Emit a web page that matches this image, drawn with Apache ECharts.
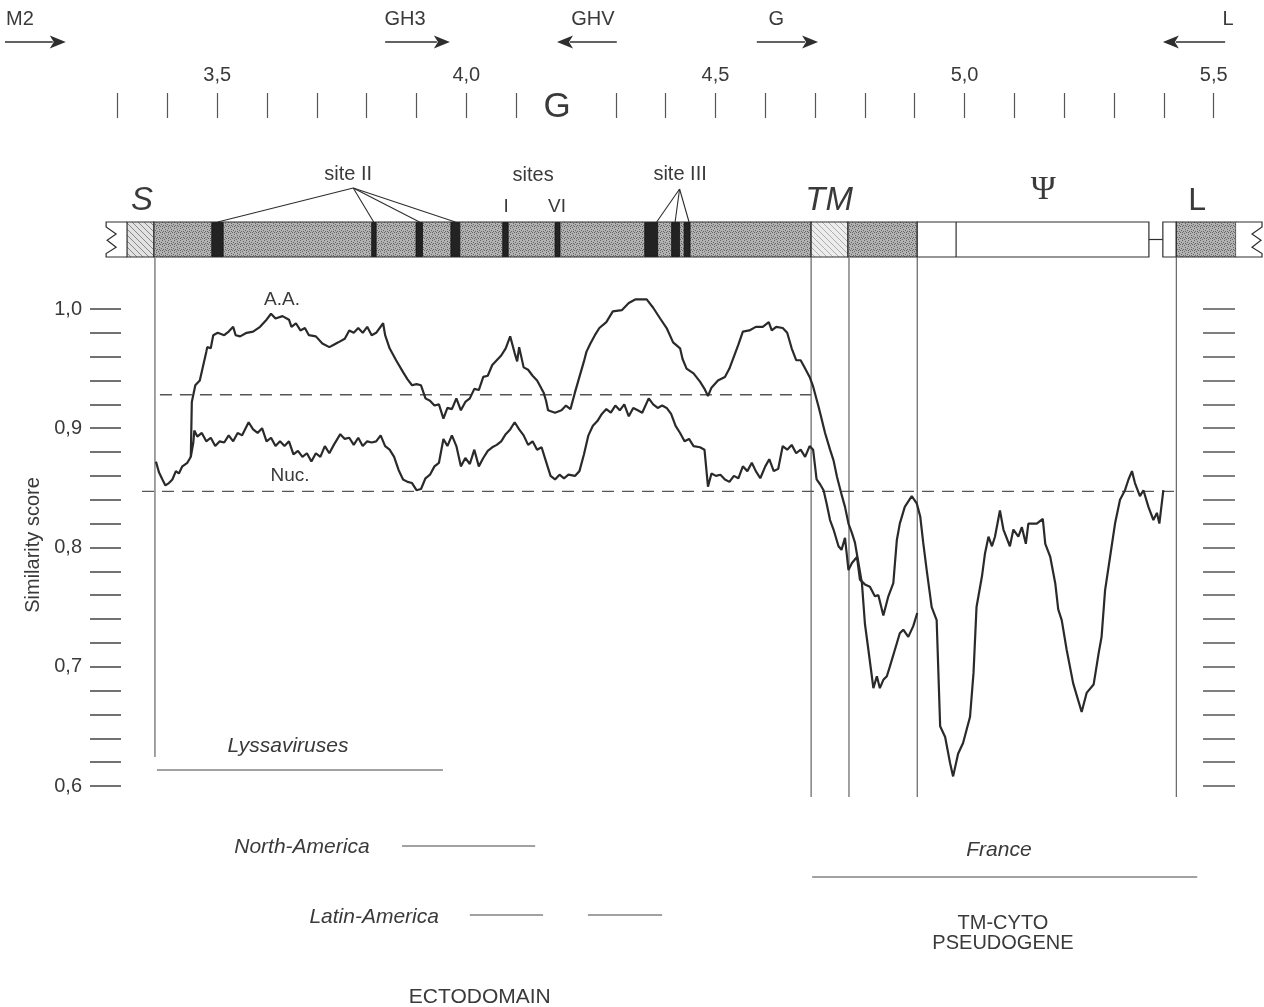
<!DOCTYPE html>
<html>
<head>
<meta charset="utf-8">
<title>Similarity score</title>
<script src="https://cdn.jsdelivr.net/npm/echarts@6/dist/echarts.min.js"></script>
<style>
html,body{margin:0;padding:0;background:#fff;}
#chart{width:1264px;height:1007px;}
</style>
</head>
<body>
<div id="chart"></div>
<script>
// ================= DATA (kb position / similarity score) =================
const aaKb = [3.447,3.449,3.456,3.465,3.478,3.480,3.487,3.492,3.501,3.514,
3.523,3.532,3.537,3.546,3.559,3.572,3.586,3.599,3.608,3.617,
3.631,3.644,3.649,3.658,3.667,3.676,3.684,3.698,3.711,3.725,
3.734,3.743,3.756,3.765,3.774,3.783,3.792,3.801,3.810,3.819,
3.833,3.837,3.846,3.859,3.873,3.882,3.891,3.900,3.909,3.918,
3.927,3.936,3.945,3.954,3.962,3.971,3.980,3.989,3.998,4.007,
4.016,4.025,4.034,4.043,4.052,4.061,4.070,4.079,4.088,4.097,
4.102,4.106,4.115,4.124,4.133,4.142,4.151,4.155,4.160,4.164,
4.178,4.191,4.200,4.209,4.218,4.227,4.236,4.241,4.249,4.258,
4.267,4.281,4.294,4.312,4.326,4.339,4.362,4.375,4.389,4.402,
4.415,4.429,4.434,4.442,4.456,4.469,4.478,4.485,4.492,4.505,
4.519,4.528,4.537,4.546,4.555,4.568,4.581,4.595,4.607,4.613,
4.622,4.635,4.644,4.653,4.662,4.671,4.680,4.689,4.696,4.707,
4.713,4.720,4.730,4.737,4.744,4.754,4.760,4.767,4.774,4.780,
4.787,4.794,4.800,4.807,4.817,4.824,4.830,4.837,4.844,4.850,
4.860,4.870,4.877,4.887,4.897,4.905];
const aaScore = [0.876,0.922,0.936,0.940,0.964,0.968,0.967,0.978,0.980,0.978,
0.981,0.985,0.978,0.977,0.980,0.981,0.985,0.991,0.996,0.992,
0.994,0.991,0.985,0.988,0.982,0.984,0.978,0.977,0.971,0.968,
0.970,0.972,0.975,0.982,0.980,0.984,0.980,0.985,0.978,0.980,
0.988,0.978,0.967,0.957,0.947,0.941,0.936,0.937,0.936,0.925,
0.923,0.919,0.920,0.908,0.917,0.916,0.925,0.915,0.922,0.925,
0.933,0.932,0.943,0.944,0.953,0.957,0.961,0.967,0.977,0.963,
0.956,0.968,0.951,0.949,0.944,0.940,0.933,0.930,0.923,0.915,
0.913,0.915,0.919,0.916,0.930,0.943,0.956,0.964,0.971,0.978,
0.984,0.989,0.998,0.999,1.005,1.008,1.008,1.001,0.992,0.984,
0.972,0.967,0.958,0.950,0.946,0.939,0.933,0.927,0.934,0.940,
0.943,0.950,0.960,0.970,0.981,0.982,0.985,0.985,0.989,0.982,
0.985,0.984,0.980,0.967,0.957,0.957,0.950,0.943,0.935,0.918,
0.908,0.896,0.882,0.873,0.859,0.843,0.834,0.820,0.812,0.804,
0.787,0.770,0.736,0.714,0.682,0.692,0.682,0.689,0.692,0.700,
0.714,0.728,0.731,0.725,0.734,0.745];

const nucKb = [3.377,3.383,3.390,3.396,3.403,3.410,3.417,3.423,3.430,3.440,
3.447,3.452,3.454,3.460,3.469,3.478,3.487,3.496,3.505,3.514,
3.523,3.532,3.541,3.550,3.563,3.572,3.581,3.590,3.599,3.608,
3.617,3.626,3.635,3.644,3.653,3.662,3.671,3.680,3.689,3.698,
3.707,3.716,3.725,3.734,3.747,3.756,3.765,3.774,3.783,3.792,
3.801,3.810,3.819,3.828,3.837,3.846,3.855,3.864,3.873,3.882,
3.891,3.900,3.909,3.918,3.927,3.936,3.945,3.954,3.962,3.971,
3.980,3.989,3.998,4.007,4.016,4.025,4.034,4.043,4.052,4.061,
4.070,4.079,4.088,4.097,4.106,4.115,4.124,4.133,4.142,4.151,
4.160,4.169,4.178,4.187,4.196,4.205,4.218,4.227,4.236,4.245,
4.254,4.263,4.272,4.281,4.290,4.299,4.308,4.317,4.326,4.335,
4.344,4.353,4.366,4.375,4.384,4.393,4.402,4.411,4.420,4.429,
4.438,4.447,4.456,4.469,4.478,4.485,4.492,4.501,4.510,4.519,
4.528,4.537,4.546,4.555,4.564,4.573,4.581,4.590,4.600,4.608,
4.617,4.626,4.635,4.644,4.653,4.662,4.671,4.680,4.689,4.696,
4.703,4.710,4.717,4.723,4.730,4.737,4.747,4.753,4.760,4.767,
4.774,4.784,4.790,4.800,4.810,4.820,4.827,4.837,4.847,4.857,
4.864,4.870,4.880,4.894,4.904,4.911,4.917,4.924,4.934,4.944,
4.951,4.961,4.971,4.977,4.987,4.997,5.011,5.018,5.024,5.035,
5.041,5.048,5.055,5.061,5.071,5.078,5.091,5.098,5.108,5.115,
5.123,5.128,5.145,5.157,5.162,5.172,5.182,5.188,5.195,5.205,
5.218,5.235,5.245,5.259,5.269,5.275,5.282,5.292,5.302,5.312,
5.322,5.329,5.336,5.342,5.352,5.359,5.369,5.379,5.386,5.391,5.399];
const nucScore = [0.872,0.863,0.857,0.852,0.854,0.857,0.864,0.862,0.868,0.871,
0.876,0.888,0.898,0.893,0.896,0.889,0.892,0.885,0.889,0.888,
0.894,0.889,0.896,0.894,0.905,0.899,0.896,0.900,0.889,0.892,
0.885,0.889,0.885,0.889,0.878,0.881,0.876,0.879,0.872,0.879,
0.876,0.885,0.879,0.886,0.895,0.891,0.892,0.886,0.892,0.885,
0.889,0.888,0.889,0.894,0.885,0.882,0.876,0.865,0.857,0.855,
0.854,0.848,0.849,0.858,0.861,0.868,0.871,0.891,0.885,0.894,
0.885,0.868,0.875,0.870,0.882,0.868,0.875,0.881,0.884,0.886,
0.889,0.895,0.899,0.905,0.899,0.894,0.886,0.889,0.882,0.884,
0.872,0.860,0.857,0.861,0.858,0.861,0.860,0.864,0.878,0.894,
0.902,0.906,0.912,0.916,0.913,0.919,0.915,0.920,0.910,0.917,
0.915,0.913,0.925,0.920,0.917,0.919,0.917,0.912,0.902,0.896,
0.889,0.891,0.885,0.884,0.882,0.851,0.862,0.860,0.861,0.857,
0.855,0.860,0.858,0.868,0.864,0.871,0.864,0.858,0.868,0.874,
0.864,0.866,0.885,0.882,0.886,0.879,0.882,0.876,0.885,0.882,
0.857,0.853,0.848,0.837,0.823,0.815,0.801,0.798,0.808,0.781,
0.787,0.792,0.773,0.769,0.767,0.759,0.760,0.743,0.759,0.770,
0.806,0.820,0.834,0.843,0.837,0.826,0.804,0.781,0.750,0.739,
0.650,0.641,0.619,0.608,0.627,0.636,0.658,0.695,0.750,0.776,
0.795,0.809,0.801,0.809,0.831,0.815,0.801,0.815,0.809,0.817,
0.803,0.820,0.820,0.824,0.803,0.792,0.770,0.748,0.739,0.714,
0.686,0.662,0.678,0.685,0.711,0.725,0.764,0.792,0.820,0.840,
0.848,0.857,0.864,0.854,0.843,0.848,0.834,0.823,0.829,0.820,0.848];

// significance thresholds (dashed lines)
const thresholdScore = [0.928, 0.847];
const thresholdFromKb = [3.385, 3.349];
const thresholdToKb = [4.692, 5.425];

// kb scale (top) and score scale
const scaleTicks = [3.3,3.4,3.5,3.6,3.7,3.8,3.9,4.0,4.1,4.3,4.4,4.5,4.6,4.7,4.8,4.9,5.0,5.1,5.2,5.3,5.4,5.5];
const scaleLabels = [3.5,4.0,4.5,5.0,5.5];
const scoreMin = 0.6, scoreMax = 1.0, scoreStep = 0.02;

// gene map segments (kb)
const geneStart = [3.277,3.319,3.373,4.692,4.766,4.905,5.370,5.398,5.425,5.545];
const geneEnd   = [3.319,3.373,4.692,4.766,4.905,5.370,5.398,5.425,5.545,5.597];
const geneKind  = ['breakL','hatch','stipple','hatchLight','stipple','psi','connector','white','stipple','breakR'];
const psiInnerKb = 4.983;
// antigenic sites (dark bands)
const siteStart = [3.489,3.810,3.899,3.969,4.073,4.178,4.358,4.412,4.437];
const siteEnd   = [3.512,3.819,3.912,3.987,4.084,4.188,4.384,4.428,4.449];
// callouts to sites II and III
const siteIIApexKb = 3.773, siteIITargetsKb = [3.501,3.814,3.906,3.978];
const siteIIIApexKb = 4.428, siteIIITargetsKb = [4.382,4.419,4.447];
// domain boundaries (vertical lines)
const boundaryKb = [3.375,4.692,4.768,4.905,5.425];
// primers
const primerName = ['M2','GH3','GHV','G','L'];
const primerFrom = [3.074,3.837,4.182,4.583,5.398];
const primerTo   = [3.196,3.967,4.302,4.706,5.523];
const primerDir  = [1,1,-1,1,-1];
// lineage extents
const lineageFrom = [3.379,3.871,4.007,4.244,4.694];
const lineageTo   = [3.953,4.138,4.154,4.393,5.467];

// ================= LAYOUT (rows in px, styling) =================
const KB_MIN = 3.064, KB_MAX = 5.601;
const SC_MIN = 0.4146, SC_MAX = 1.2591;
const L = {barTop:222, barBottom:257, barMid:239.5, arrowRow:42, calloutApexII:188, calloutApexIII:189,
           boundaryTop:258, boundaryBottom:[757,797,797,797,797],
           lineageRow:[770,846,915,915,877]};
const FONT = '"Liberation Sans", Arial, Helvetica, sans-serif';
const INK = '#2e2e2e';
const TXT = '#3a3a3a';
const textLayout = [
  {t:primerName[0], kb:3.104, row:19, s:20},
  {t:primerName[1], kb:3.877, row:19, s:20},
  {t:primerName[2], kb:4.254, row:19, s:20},
  {t:primerName[3], kb:4.622, row:19, s:20},
  {t:primerName[4], kb:5.529, row:19, s:20},
  {t:'G', kb:4.182, row:107, s:35},
  {t:'S', kb:3.349, row:201, s:33, st:'italic'},
  {t:'site II', kb:3.763, row:174, s:20},
  {t:'sites', kb:4.134, row:175, s:20},
  {t:'I', kb:4.080, row:207, s:19},
  {t:'VI', kb:4.182, row:207, s:19},
  {t:'site III', kb:4.429, row:174, s:20},
  {t:'TM', kb:4.728, row:201, s:33, st:'italic'},
  {t:'Ψ', kb:5.158, row:190, s:34, f:'"Liberation Serif", "DejaVu Serif", serif'},
  {t:'L', kb:5.467, row:201, s:32},
  {t:'A.A.', kb:3.630, row:300, s:19},
  {t:'Nuc.', kb:3.646, row:476, s:19},
  {t:'Lyssaviruses', kb:3.642, row:746, s:21, st:'italic'},
  {t:'North-America', kb:3.670, row:847, s:21, st:'italic'},
  {t:'Latin-America', kb:3.815, row:917, s:21, st:'italic'},
  {t:'France', kb:5.069, row:850, s:21, st:'italic'},
  {t:'TM-CYTO', kb:5.077, row:923, s:20},
  {t:'PSEUDOGENE', kb:5.077, row:943, s:20},
  {t:'ECTODOMAIN', kb:4.027, row:997, s:21},
  {t:'Similarity score', kb:3.132, row:545, s:20, rot:Math.PI/2}
];

// ================= PATTERNS =================
function makePattern(bg, fg, type){
  const c = document.createElement('canvas'); c.width = 6; c.height = 6;
  const g = c.getContext('2d'); g.fillStyle = bg; g.fillRect(0,0,6,6);
  if (type === 'hatch'){
    g.strokeStyle = fg; g.lineWidth = 1;
    g.beginPath(); g.moveTo(-1,-1); g.lineTo(7,7); g.moveTo(-1,5); g.lineTo(1,7); g.moveTo(5,-1); g.lineTo(7,1); g.stroke();
  } else {
    g.fillStyle = fg;
    [[0,0],[3,1],[1,3],[4,4],[2,5],[5,2],[0,4],[3,3]].forEach(p=>g.fillRect(p[0],p[1],1,1));
  }
  return {image:c, repeat:'repeat'};
}
const PAT = {
  stipple: makePattern('#b2b2b2','#666666','dots'),
  hatch: makePattern('#e2e2e2','#888888','hatch'),
  hatchLight: makePattern('#ededed','#adadad','hatch')
};

// ================= RENDERERS =================
function rGene(params, api){
  const kind = geneKind[api.value(2)];
  const a = api.coord([api.value(0), L.barTop]);
  const b = api.coord([api.value(1), L.barBottom]);
  const x0=a[0], y0=a[1], x1=b[0], y1=b[1], h=y1-y0;
  const lineSt = {stroke:INK, lineWidth:1.2, fill:null};
  if (kind === 'connector'){
    const m = api.coord([api.value(0), L.barMid])[1];
    return {type:'line', shape:{x1:x0,y1:m,x2:x1,y2:m}, style:lineSt};
  }
  if (kind === 'breakL' || kind === 'breakR'){
    const left = kind === 'breakL';
    const xe = left ? x0 : x1, s = left ? 1 : -1, other = left ? x1 : x0;
    const pts = [[other,y0],[xe,y0],[xe,y0+h*0.14],[xe+s*10,y0+h*0.34],[xe+s*1,y0+h*0.52],[xe+s*10,y0+h*0.72],[xe,y0+h*0.9],[xe,y1],[other,y1]];
    return {type:'group', children:[
      {type:'rect', shape:{x:x0,y:y0,width:x1-x0,height:h}, style:{fill:'#fff'}},
      {type:'polyline', shape:{points:pts}, style:lineSt}
    ]};
  }
  const fill = (kind === 'psi' || kind === 'white') ? '#ffffff' : PAT[kind];
  const children = [{type:'rect', shape:{x:x0,y:y0,width:x1-x0,height:h}, style:{fill:fill, stroke:INK, lineWidth:1.2}}];
  if (kind === 'psi'){
    const xi = api.coord([psiInnerKb, L.barTop])[0];
    children.push({type:'line', shape:{x1:xi,y1:y0,x2:xi,y2:y1}, style:lineSt});
  }
  return {type:'group', children};
}
function rSite(params, api){
  const a = api.coord([api.value(0), L.barTop]);
  const b = api.coord([api.value(1), L.barBottom]);
  return {type:'rect', shape:{x:a[0], y:a[1]+0.6, width:b[0]-a[0], height:b[1]-a[1]-1.2}, style:{fill:'#232323', stroke:'#151515', lineWidth:0.8}};
}
function rSeg(params, api){
  const a = api.coord([api.value(0), api.value(1)]);
  const b = api.coord([api.value(2), api.value(3)]);
  return {type:'line', shape:{x1:a[0],y1:a[1],x2:b[0],y2:b[1]}, style:{stroke:INK, lineWidth:1.1}};
}
function rBoundary(params, api){
  const a = api.coord([api.value(0), api.value(1)]);
  const b = api.coord([api.value(0), api.value(2)]);
  return {type:'line', shape:{x1:a[0],y1:a[1],x2:b[0],y2:b[1]}, style:{stroke:'#555', lineWidth:1.1}};
}
function rLineage(params, api){
  const a = api.coord([api.value(0), api.value(2)]);
  const b = api.coord([api.value(1), api.value(2)]);
  return {type:'line', shape:{x1:a[0],y1:a[1],x2:b[0],y2:b[1]}, style:{stroke:'#444', lineWidth:1.2}};
}
function rArrow(params, api){
  const dir = primerDir[api.value(2)];
  const a = api.coord([api.value(0), L.arrowRow]);
  const b = api.coord([api.value(1), L.arrowRow]);
  const y = a[1];
  const tip = dir > 0 ? b[0] : a[0], tail = dir > 0 ? a[0] : b[0];
  const hl = 16, hw = 6.5, base = tip - dir*hl;
  return {type:'group', children:[
    {type:'line', shape:{x1:tail,y1:y,x2:base+dir*3,y2:y}, style:{stroke:INK, lineWidth:1.6}},
    {type:'polygon', shape:{points:[[tip,y],[base,y-hw],[base+dir*4,y],[base,y+hw]]}, style:{fill:INK}}
  ]};
}
function rText(params, api){
  const t = textLayout[api.value(2)];
  const p = api.coord([api.value(0), api.value(1)]);
  const font = (t.st ? t.st + ' ' : '') + t.s + 'px ' + (t.f || FONT);
  return {type:'text', x:p[0], y:p[1], rotation:t.rot || 0,
    style:{text:t.t, font:font, fill:TXT, align:'center', verticalAlign:'middle', textAlign:'center', textVerticalAlign:'middle'}};
}

// ================= OPTION =================
const zip = (xs, ys) => xs.map((x,i)=>[x, ys[i]]);
const callouts = siteIITargetsKb.map(k=>[siteIIApexKb, L.calloutApexII, k, L.barTop])
  .concat(siteIIITargetsKb.map(k=>[siteIIIApexKb, L.calloutApexIII, k, L.barTop]));

const chart = echarts.init(document.getElementById('chart'), null, {renderer:'canvas'});
const option = {
  animation:false,
  backgroundColor:'#ffffff',
  grid:[
    {left:0, right:0, top:0, bottom:0, outerBoundsMode:'none'},
    {left:121, top:309, width:1082, height:477, outerBoundsMode:'none'},
    {left:0, right:0, top:118, height:20, outerBoundsMode:'none'}
  ],
  xAxis:[
    {gridIndex:0, type:'value', min:KB_MIN, max:KB_MAX, show:false},
    {gridIndex:1, type:'value', min:0, max:1, show:false},
    {gridIndex:2, type:'value', position:'top', min:KB_MIN, max:KB_MAX,
     axisLine:{show:false, onZero:false}, splitLine:{show:false},
     axisTick:{show:true, inside:false, length:25, customValues:scaleTicks, lineStyle:{color:'#555', width:1.2}},
     axisLabel:{show:true, margin:33, customValues:scaleLabels, fontSize:20, fontFamily:FONT, color:TXT,
       formatter:v=>Number(v).toFixed(1).replace('.', ',')}}
  ],
  yAxis:[
    {gridIndex:0, type:'value', min:SC_MIN, max:SC_MAX, show:false},
    {gridIndex:0, type:'value', min:0, max:1007, inverse:true, show:false},
    {gridIndex:1, type:'value', position:'left', min:scoreMin, max:scoreMax, interval:scoreStep,
     axisLine:{show:false, onZero:false}, splitLine:{show:false},
     axisTick:{show:true, length:31, lineStyle:{color:'#444', width:1.5}},
     axisLabel:{show:true, margin:39, fontSize:20, fontFamily:FONT, color:TXT, showMinLabel:true, showMaxLabel:true,
       formatter:v=>{const r=Math.round(v*100); return r%10===0 ? (r/100).toFixed(1).replace('.', ',') : '';}}},
    {gridIndex:1, type:'value', position:'right', min:scoreMin, max:scoreMax, interval:scoreStep,
     axisLine:{show:false, onZero:false}, splitLine:{show:false},
     axisTick:{show:true, length:32, lineStyle:{color:'#555', width:1.5}},
     axisLabel:{show:false}},
    {gridIndex:2, type:'value', min:0, max:1, show:false}
  ],
  series:[
    {type:'custom', name:'boundaries', xAxisIndex:0, yAxisIndex:1, clip:false, silent:true, z:1,
     data:boundaryKb.map((k,i)=>[k, L.boundaryTop, L.boundaryBottom[i]]), renderItem:rBoundary},
    {type:'line', name:'A.A. threshold', xAxisIndex:0, yAxisIndex:0, silent:true, symbol:'none', clip:false, z:2,
     data:[[thresholdFromKb[0], thresholdScore[0]],[thresholdToKb[0], thresholdScore[0]]],
     lineStyle:{color:'#555', width:1.4, type:[12,8]}},
    {type:'line', name:'Nuc. threshold', xAxisIndex:0, yAxisIndex:0, silent:true, symbol:'none', clip:false, z:2,
     data:[[thresholdFromKb[1], thresholdScore[1]],[thresholdToKb[1], thresholdScore[1]]],
     lineStyle:{color:'#555', width:1.4, type:[12,8]}},
    {type:'line', name:'A.A.', xAxisIndex:0, yAxisIndex:0, silent:true, symbol:'none', showSymbol:false, clip:false, z:5,
     data:zip(aaKb, aaScore), lineStyle:{color:'#2a2a2a', width:2.2}},
    {type:'line', name:'Nuc.', xAxisIndex:0, yAxisIndex:0, silent:true, symbol:'none', showSymbol:false, clip:false, z:5,
     data:zip(nucKb, nucScore), lineStyle:{color:'#2a2a2a', width:2.2}},
    {type:'custom', name:'gene map', xAxisIndex:0, yAxisIndex:1, clip:false, silent:true, z:3,
     data:geneStart.map((s,i)=>[s, geneEnd[i], i]), renderItem:rGene},
    {type:'custom', name:'sites', xAxisIndex:0, yAxisIndex:1, clip:false, silent:true, z:4,
     data:siteStart.map((s,i)=>[s, siteEnd[i]]), renderItem:rSite},
    {type:'custom', name:'callouts', xAxisIndex:0, yAxisIndex:1, clip:false, silent:true, z:4,
     data:callouts, renderItem:rSeg},
    {type:'custom', name:'primers', xAxisIndex:0, yAxisIndex:1, clip:false, silent:true, z:4,
     data:primerFrom.map((s,i)=>[s, primerTo[i], i]), renderItem:rArrow},
    {type:'custom', name:'lineages', xAxisIndex:0, yAxisIndex:1, clip:false, silent:true, z:4,
     data:lineageFrom.map((s,i)=>[s, lineageTo[i], L.lineageRow[i]]), renderItem:rLineage},
    {type:'custom', name:'labels', xAxisIndex:0, yAxisIndex:1, clip:false, silent:true, z:10,
     data:textLayout.map((t,i)=>[t.kb, t.row, i]), renderItem:rText}
  ]
};
chart.setOption(option);
</script>
</body>
</html>
